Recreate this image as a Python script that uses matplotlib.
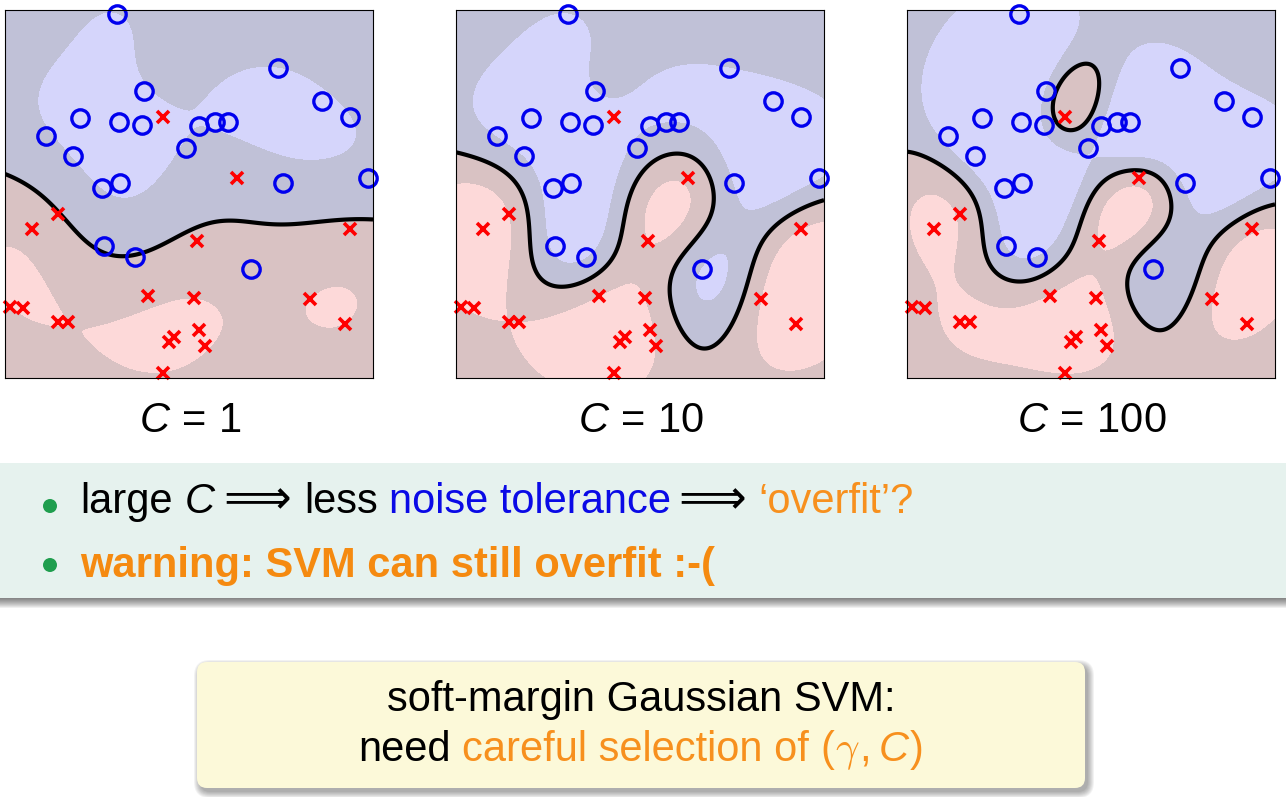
import numpy as np
import matplotlib
matplotlib.use('agg')
import matplotlib.pyplot as plt
from matplotlib.patches import Rectangle, FancyBboxPatch, Circle

plt.rcParams['font.family'] = ['Liberation Sans', 'DejaVu Sans']
plt.rcParams['mathtext.fontset'] = 'custom'
plt.rcParams['mathtext.rm'] = 'Liberation Sans'
plt.rcParams['mathtext.it'] = 'Liberation Sans:italic'
plt.rcParams['mathtext.bf'] = 'Liberation Sans:bold'

# data (unit square, y up)
blue_x = [0.304, 0.742, 0.378, 0.861, 0.938, 0.204, 0.310, 0.372, 0.527, 0.571, 0.606,
          0.111, 0.492, 0.185, 0.986, 0.755, 0.264, 0.313, 0.269, 0.353, 0.668]
blue_y = [0.989, 0.842, 0.780, 0.753, 0.709, 0.707, 0.696, 0.688, 0.685, 0.696, 0.696,
          0.658, 0.625, 0.603, 0.543, 0.530, 0.516, 0.530, 0.359, 0.329, 0.296]
red_x = [0.429, 0.630, 0.144, 0.073, 0.522, 0.938, 0.389, 0.514, 0.829, 0.014, 0.049,
         0.144, 0.171, 0.924, 0.527, 0.459, 0.446, 0.543, 0.429]
red_y = [0.709, 0.543, 0.446, 0.405, 0.372, 0.405, 0.223, 0.217, 0.215, 0.193, 0.190,
         0.152, 0.152, 0.147, 0.130, 0.111, 0.098, 0.087, 0.014]

C_values = [1, 10, 100]
gammas = [15, 20, 26]
panel_left = [5, 456, 907]   # px

X = np.column_stack([blue_x + red_x, blue_y + red_y])
y = np.array([1.0] * len(blue_x) + [-1.0] * len(red_x))


def fit_svm(C, gamma):
    # plain SMO, maximal violating pair
    K = np.exp(-gamma * ((X[:, None, :] - X[None, :, :]) ** 2).sum(-1))
    a = np.zeros(len(y))
    f = np.zeros(len(y))
    for it in range(200000):
        E = f - y
        up = ((y > 0) & (a < C)) | ((y < 0) & (a > 0))
        low = ((y > 0) & (a > 0)) | ((y < 0) & (a < C))
        i = np.where(up)[0][np.argmax(-E[up])]
        j = np.where(low)[0][np.argmin(-E[low])]
        if -E[i] + E[j] < 1e-5:
            break
        eta = max(K[i, i] + K[j, j] - 2 * K[i, j], 1e-12)
        if y[i] != y[j]:
            L, H = max(0, a[j] - a[i]), min(C, C + a[j] - a[i])
        else:
            L, H = max(0, a[i] + a[j] - C), min(C, a[i] + a[j])
        aj = min(max(a[j] + y[j] * (E[i] - E[j]) / eta, L), H)
        ai = a[i] + y[i] * y[j] * (a[j] - aj)
        f += (ai - a[i]) * y[i] * K[i] + (aj - a[j]) * y[j] * K[j]
        a[i], a[j] = ai, aj
    free = (a > 1e-8) & (a < C - 1e-8)
    b = np.mean(y[free] - f[free]) if free.any() else 0.0
    return a, b


W, H = 1286, 797
fig = plt.figure(figsize=(W / 100, H / 100), dpi=100)

# overlay in pixel coordinates for the slide decorations
ov = fig.add_axes([0, 0, 1, 1])
ov.set_xlim(0, W)
ov.set_ylim(H, 0)
ov.axis('off')

gx, gy = np.meshgrid(np.linspace(0, 1, 300), np.linspace(0, 1, 300))
P = np.column_stack([gx.ravel(), gy.ravel()])
shade = ['#fdd9d9', '#d9c2c3', '#c0c1d7', '#d5d5fb']
FS = 30

for C, gamma, left in zip(C_values, gammas, panel_left):
    a, b = fit_svm(C, gamma)
    d = ((P[:, None, :] - X[None, :, :]) ** 2).sum(-1)
    f = (np.exp(-gamma * d) * (a * y)).sum(1).reshape(gx.shape) + b

    ax = fig.add_axes([left / W, (H - 378) / H, 368 / W, 368 / H])
    ax.contourf(gx, gy, f, levels=[-1e9, -1, 0, 1, 1e9], colors=shade)
    ax.contour(gx, gy, f, levels=[0], colors='black', linewidths=3)
    ax.plot(blue_x, blue_y, 'o', mfc='none', mec='#0000ee', ms=12.5, mew=2.4, clip_on=False)
    ax.plot(red_x, red_y, 'x', color='#ff0000', ms=8.5, mew=2.6, clip_on=False)
    ax.set_xlim(0, 1)
    ax.set_ylim(0, 1)
    ax.set_xticks([])
    ax.set_yticks([])
    for s in ax.spines.values():
        s.set_linewidth(0.8)
    ov.text(left + 185, 432, '$C\\,=\\,%d$' % C, fontsize=FS, ha='center', va='baseline')

# green band with bottom shadow
ov.add_patch(Rectangle((0, 463), W, 135, facecolor='#e6f2ee', edgecolor='none'))
for k in range(10):
    ov.add_patch(Rectangle((0, 598), W, k + 1, facecolor='black', alpha=0.06, edgecolor='none'))

# yellow box with soft shadow
for k in range(7):
    ov.add_patch(FancyBboxPatch((197 + 3 - k, 662 + 4 - k), 888 + 2 * k, 126 + 2 * k,
                                boxstyle='round,pad=0,rounding_size=%d' % (10 + k),
                                facecolor='black', alpha=0.05, edgecolor='none'))
ov.add_patch(FancyBboxPatch((197, 662), 888, 126, boxstyle='round,pad=0,rounding_size=10',
                            facecolor='#fcf9d9', edgecolor='none'))

for yy in [506, 565]:
    ov.add_patch(Circle((50, yy), 7, facecolor='#1f9e4e', edgecolor='none'))

R = fig.canvas.get_renderer()
orange = '#f7901e'
blue = '#0a0ae6'
arrow = {'fontsize': 34}


def text_w(t):
    return t.get_window_extent(renderer=R).width


probe1 = ov.text(0, 0, 'a a', fontsize=FS)
probe2 = ov.text(0, 0, 'aa', fontsize=FS)
SP = text_w(probe1) - text_w(probe2)
probe1.remove()
probe2.remove()


def put_row(pieces, x, yb, center=False):
    arts = []
    for s, col, extra, gap in pieces:
        kw = {'fontsize': FS}
        kw.update(extra)
        arts.append((ov.text(0, yb, s, color=col, va='baseline', ha='left', **kw), gap))
    widths = [text_w(t) for t, g in arts]
    total = sum(widths) + sum(g * SP for t, g in arts[:-1])
    cur = x - total / 2 if center else x
    for (t, g), w in zip(arts, widths):
        t.set_x(cur)
        cur += w + g * SP


put_row([('large', 'black', {}, 1), ('$C$', 'black', {}, 0.6), ('\u27f9', 'black', arrow, 1.1),
         ('less', 'black', {}, 1), ('noise tolerance', blue, {}, 0.6), ('\u27f9', 'black', arrow, 1.1),
         ('\u2018overfit\u2019?', orange, {}, 0)], 80, 513)
put_row([('warning: SVM can still overfit :-(', '#f58a10', {'fontweight': 'bold'}, 0)], 80, 577)

put_row([('soft-margin Gaussian SVM:', 'black', {}, 0)], 641, 711, center=True)
put_row([('need', 'black', {}, 1), ('careful selection of', orange, {}, 1), ('(', orange, {}, 0),
         ('$\\gamma$', orange, {'math_fontfamily': 'cm'}, 0), (',', orange, {}, 0.6),
         ('$C$', orange, {}, 0), (')', orange, {}, 0)], 641, 761, center=True)

fig.savefig('out.png', dpi=100)
